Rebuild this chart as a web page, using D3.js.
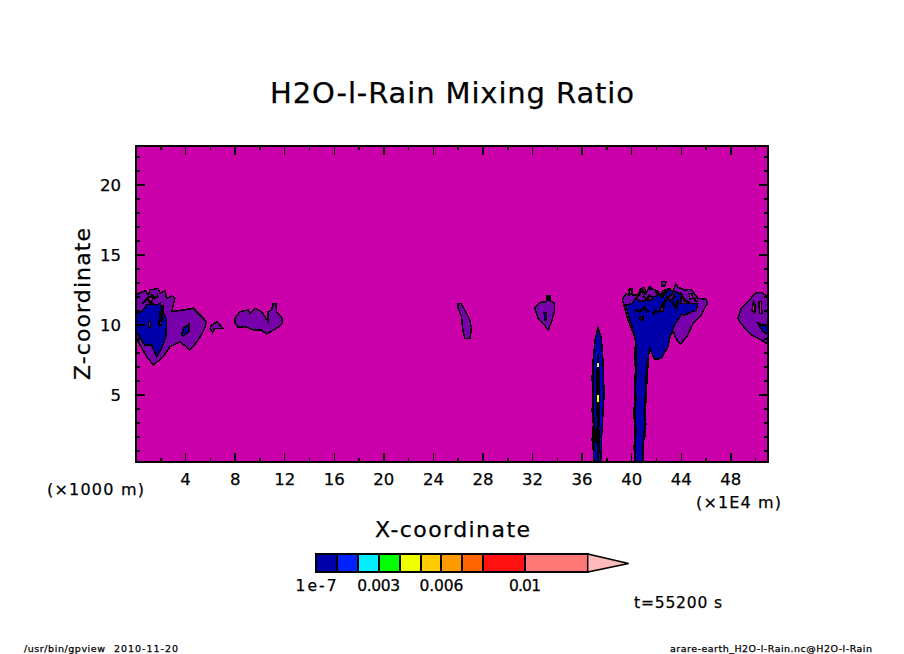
<!DOCTYPE html>
<html><head><meta charset="utf-8">
<script src="https://cdn.jsdelivr.net/npm/d3@7"></script>
<style>html,body{margin:0;background:#fff}svg{display:block}text{font-family:"DejaVu Sans";fill:#000;stroke:#000;stroke-width:.25px}</style>
</head><body><svg id="c" width="904" height="654"></svg>
<script>
const titleText="H2O-l-Rain Mixing Ratio";
const xTicks=[4,8,12,16,20,24,28,32,36,40,44,48];
const xMinor=[2,6,10,14,18,22,26,30,34,38,42,46,50];
const zTicks=[5,10,15,20];
const zMinor=[1,2,3,4,6,7,8,9,11,12,13,14,16,17,18,19,21,22];
const levels=[1e-7,0.001,0.002,0.003,0.004,0.005,0.006,0.007,0.008,0.01,0.013];
const levelColors=["#0000aa","#0022ff","#00eeff","#00ff00","#eeff00","#ffcc00","#ff9900","#ff6600","#ff1111","#ff7777"];
const overColor="#ffbbbb";
const overEnd=0.01496;
const barLabels=[[1e-7,"1e-7",41],[0.003,"0.003",43],[0.006,"0.006",44],[0.01,"0.01",32]];

const purpleAreas=[
 [[0,12.13],[.73,12.44],[1.0,12.13],[1.13,12.49],[1.8,12.6],[1.94,12.25],[2.34,12.44],[2.47,11.89],[2.88,12.06],[3.15,11.89],[2.88,10.94],[3.82,11.06],[4.62,11.18],[5.3,10.58],[5.7,10.22],[5.48,9.63],[5.03,8.91],[4.35,8.2],[3.55,8.8],[2.74,8.44],[2.2,7.72],[1.4,7.13],[.86,7.72],[.32,8.56],[0,9.15]],
 [[5.97,9.75],[6.1,9.99],[6.56,10.22],[6.77,9.99],[7.04,9.75],[6.77,9.75],[6.37,9.75],[6.18,9.46]],
 [[7.98,10.46],[8.39,10.94],[9.06,11.06],[9.19,10.82],[9.6,11.18],[10.13,10.94],[10.67,10.22],[10.67,10.94],[10.94,11.06],[11.08,11.53],[11.29,11.53],[11.34,10.94],[11.75,10.58],[11.83,10.1],[11.34,9.75],[10.54,9.34],[10.13,9.63],[9.46,9.63],[8.79,9.87],[8.25,9.82],[7.98,10.1]],
 [[26.0,11.53],[26.21,11.53],[26.54,11.06],[26.94,10.34],[27.07,9.75],[26.94,9.03],[26.54,9.03],[26.35,9.75],[26.27,10.58],[26.0,11.18]],
 [[32.18,11.18],[32.58,11.6],[33.12,11.65],[33.18,12.08],[33.39,12.08],[33.45,11.7],[33.79,11.53],[33.79,11.06],[33.53,10.22],[33.26,9.63],[32.85,10.1],[32.45,10.46]],
 [[39.25,11.82],[39.52,12.2],[39.78,12.13],[39.84,12.6],[40.03,12.6],[40.05,12.13],[40.51,12.13],[40.7,12.53],[40.97,12.68],[41.2,12.3],[41.45,12.72],[41.67,12.53],[42.04,12.44],[42.3,12.1],[42.53,12.44],[43.06,12.6],[43.3,12.3],[43.55,12.91],[43.74,12.68],[44.27,12.49],[44.81,12.53],[45.35,11.89],[46.02,11.82],[46.1,11.53],[45.62,10.7],[44.95,10.1],[44.46,9.15],[43.92,8.63],[43.55,9.03],[43.39,9.51],[41.99,8.44],[40.38,8.44],[40.24,9.15],[39.7,10.34],[39.44,11.18]],
 [[42.39,13.08],[42.8,13.08],[42.66,12.77],[42.45,12.77]],
 [[48.58,10.46],[48.85,11.18],[49.52,11.77],[49.92,12.25],[50.46,12.32],[51,12.0],[51,8.6],[50.46,8.92],[49.65,9.27],[49.25,9.63],[48.71,10.22]]
];
const blueAreas=[
 [[0,10.82],[.46,10.94],[.86,11.41],[1.26,11.53],[1.67,11.41],[1.94,11.53],[2.2,10.94],[2.47,10.34],[2.42,9.15],[2.07,8.32],[1.67,7.72],[1.26,8.56],[.73,8.56],[.19,9.27],[0,9.39]],
 [[3.68,9.27],[3.82,9.75],[4.27,10.06],[4.27,9.51],[3.82,9.22]],
 [[32.93,10.89],[33.12,10.89],[33.12,10.34],[32.99,10.34]],
 [[39.52,11.41],[40.05,11.53],[40.3,11.89],[40.78,11.65],[41.59,11.96],[42.12,12.1],[43.06,12.49],[43.6,12.37],[43.95,12.13],[44.0,11.53],[44.41,11.53],[45.35,11.53],[45.22,11.06],[44.27,10.7],[44.0,10.75],[43.39,9.87],[43.06,9.03],[42.93,8.44],[42.39,7.6],[41.85,7.53],[41.45,8.32],[41.32,7.6],[41.32,7.49],[41.13,5.1],[41.05,2.72],[40.91,1.3],[40.91,0.2],[40.3,0.2],[40.24,2.72],[40.3,5.1],[40.38,7.49],[40.32,8.91],[39.97,9.99],[39.7,10.82]],
 [[37.28,9.8],[37.55,9.03],[37.69,7.37],[37.77,4.99],[37.69,3.77],[37.55,1.63],[37.5,0.2],[36.96,0.2],[36.88,1.39],[36.94,2.82],[36.88,4.72],[36.88,7.37],[37.07,9.03]],
 [[50.14,10.15],[50.6,9.99],[51,9.99],[51,9.32],[50.6,9.51]]
];
const holePurple=[
 [[1.0,10.22],[1.18,10.22],[1.18,9.82],[1.0,9.82]],
 [[41.31,11.96],[41.58,12.03],[41.72,11.8],[41.31,11.72]],
 [[42.26,10.96],[42.39,11.32],[42.66,11.44],[42.52,10.96]],
 [[40.64,10.49],[40.91,10.6],[40.91,10.37],[40.7,10.3]],
 [[42.93,11.91],[43.33,12.27],[43.47,12.03],[43.06,11.68]],
 [[1.94,10.9],[2.15,10.9],[2.05,10.0],[1.85,10.0]]
];
const holeMagenta=[
 [[49.71,11.06],[49.84,11.65],[49.98,11.41],[49.92,10.82]],
 [[50.25,11.65],[50.46,11.65],[50.51,10.82],[50.33,10.82]],
 [[39.8,12.5],[40.0,12.5],[39.98,12.2],[39.82,12.2]],
 [[33.25,12.0],[33.35,12.0],[33.35,11.75],[33.25,11.75]],
 [[1.0,12.0],[1.4,11.95],[1.25,11.6],[1.05,11.7]],
 [[44.65,12.2],[44.85,12.25],[44.92,11.9],[44.7,11.85]],
 [[41.9,12.4],[42.2,12.35],[42.05,12.2]]
];
const strokes=[
 [[40.24,11.08],[40.64,10.96],[41.05,11.2]],[[41.72,10.72],[41.99,11.08]],
 [[42.12,10.84],[42.66,11.68],[42.93,12.03]],[[40.78,12.51],[41.18,12.15]],[[40.37,11.91],[40.78,12.39]],
 [[41.5,12.7],[41.5,12.5]],[[10.13,11.79],[10.15,11.77]],
 [[43.9,12.3],[44.3,11.7],[44.7,11.6]],[[1.85,10.1],[2.2,11.4]],
 [[40.9,12.05],[41.2,11.8],[41.5,12.15]],[[42.0,12.3],[42.5,12.0],[42.8,12.35]],
 [[43.2,11.7],[43.6,11.2],[43.75,11.8]],[[41.0,11.3],[41.3,10.9]],[[45.0,11.9],[45.3,11.6]],
 [[1.2,12.2],[1.5,11.9],[1.8,12.1]],[[.5,11.5],[.9,11.85],[1.4,11.4]],
 [[40.32,8.4],[40.25,7.6],[40.37,6.8],[40.25,5.9],[40.3,4.7],[40.22,3.8],[40.3,2.4],[40.24,1.2],[40.3,0.2]],
 [[41.3,7.4],[41.2,6.3],[41.15,5.2],[41.05,3.7],[41.1,2.9],[41,1.8]],
 [[36.9,7.4],[36.85,6.2],[36.9,5.0],[36.85,3.9],[36.95,2.9],[36.85,1.8],[36.95,1.0]]
];
const blueCore=[[37.12,8.0],[37.3,8.4],[37.56,7.2],[37.62,4.6],[37.52,2.2],[37.46,0.2],[37.1,0.2]];
const blackCore=[[37.18,7.7],[37.32,7.95],[37.42,6.6],[37.46,4.4],[37.4,2.6],[37.44,1.4],[37.36,0.2],[37.18,0.2],[37.2,1.5],[36.98,1.6],[36.98,2.6],[37.18,2.7],[37.12,5.0]];
const yellowMarks=[[[37.23,7.25],[37.34,7.25],[37.34,6.96],[37.23,6.96]],[[37.23,4.96],[37.34,4.96],[37.34,4.49],[37.23,4.49]]];

const MAGENTA="#cc00aa",PURPLE="#7700aa",DARK="#0000aa";
const svg=d3.select("#c");
const x=d3.scaleLinear().domain([0,51]).range([136,768]);
const z=d3.scaleLinear().domain([0.2,22.8]).range([462,145.6]);
svg.append("clipPath").attr("id","plot").append("rect").attr("x",136).attr("y",146).attr("width",632).attr("height",316);
svg.append("rect").attr("x",136).attr("y",146).attr("width",632).attr("height",316).attr("fill",MAGENTA);
const g=svg.append("g").attr("clip-path","url(#plot)").style("shape-rendering","crispEdges");
const closed=d3.line().x(d=>x(d[0])).y(d=>z(d[1])).curve(d3.curveLinearClosed);
const open=d3.line().x(d=>x(d[0])).y(d=>z(d[1]));
function areas(list,fill,sw){g.append("g").selectAll("path").data(list).join("path").attr("d",closed).attr("fill",fill).attr("stroke","#000").attr("stroke-width",sw===undefined?1.5:sw);}
areas(purpleAreas,PURPLE);
areas(holeMagenta,MAGENTA);
areas(blueAreas,DARK);
areas(holePurple,PURPLE);
g.append("path").attr("d",closed(blueCore)).attr("fill","#0000cc");
g.append("path").attr("d",closed(blackCore)).attr("fill","#000");
g.append("g").selectAll("path").data(strokes).join("path").attr("d",open).attr("fill","none").attr("stroke","#000").attr("stroke-width",2.5);
areas(yellowMarks,"#eeff00",0);

const axG=svg.append("g").style("shape-rendering","crispEdges");
axG.append("rect").attr("x",136).attr("y",146).attr("width",632).attr("height",316).attr("fill","none").attr("stroke","#000").attr("stroke-width",2);
function ticks(vals,len){
 vals.forEach(v=>{
  axG.append("line").attr("x1",x(v)).attr("x2",x(v)).attr("y1",462).attr("y2",462-len).attr("stroke","#000").attr("stroke-width",1.5);
  axG.append("line").attr("x1",x(v)).attr("x2",x(v)).attr("y1",146).attr("y2",146+len).attr("stroke","#000").attr("stroke-width",1.5);
 });
}
function zt(vals,len){
 vals.forEach(v=>{
  axG.append("line").attr("y1",z(v)).attr("y2",z(v)).attr("x1",136).attr("x2",136+len).attr("stroke","#000").attr("stroke-width",1.5);
  axG.append("line").attr("y1",z(v)).attr("y2",z(v)).attr("x1",768).attr("x2",768-len).attr("stroke","#000").attr("stroke-width",1.5);
 });
}
ticks(xTicks,9);ticks(xMinor,4);zt(zTicks,9);zt(zMinor,4);

function label(s,px,py,size,anchor,len,rot){
 const t=svg.append("text").attr("x",px).attr("y",py).attr("font-size",size).attr("text-anchor",anchor||"middle").text(s);
 if(len)t.attr("textLength",len).attr("lengthAdjust","spacing");
 if(rot)t.attr("transform",`rotate(${rot} ${px} ${py})`);
 return t;
}
label(titleText,452,103,29,"middle",364);
xTicks.forEach(v=>label(v,x(v),485,16.5));
zTicks.forEach(v=>label(v,121,z(v)+6,16.5,"end"));
label("(×1000 m)",95.5,495,16,"middle",97);
label("(×1E4 m)",738.5,508,16,"middle",85);
label("X-coordinate",452.5,537,22,"middle",155);
label("Z-coordinate",90,304,22,"middle",152,-90);
label("t=55200 s",678,608,15.5,"middle",88);
label("/usr/bin/gpview",24,652,9.5,"start",81);
label("2010-11-20",114,652,9.5,"start",64);
label("arare-earth_H2O-l-Rain.nc@H2O-l-Rain",670,652,9.5,"start",202);

const cb=d3.scaleLinear().domain([0,0.013]).range([316,587.7]);
const bar=svg.append("g").style("shape-rendering","crispEdges");
const boxes=d3.pairs(levels).map((p,i)=>({a:p[0],b:p[1],c:levelColors[i]}));
bar.selectAll("rect").data(boxes).join("rect").attr("x",d=>cb(d.a)).attr("y",554).attr("width",d=>cb(d.b)-cb(d.a)).attr("height",18).attr("fill",d=>d.c).attr("stroke","#000").attr("stroke-width",2);
svg.append("path").attr("d",`M${cb(0.013)},554 L${cb(overEnd)},563.5 L${cb(0.013)},572 Z`).attr("fill",overColor).attr("stroke","#000").attr("stroke-width",1.5);
barLabels.forEach(d=>label(d[1],cb(d[0]),591,15.5,"middle",d[2]));
</script></body></html>
